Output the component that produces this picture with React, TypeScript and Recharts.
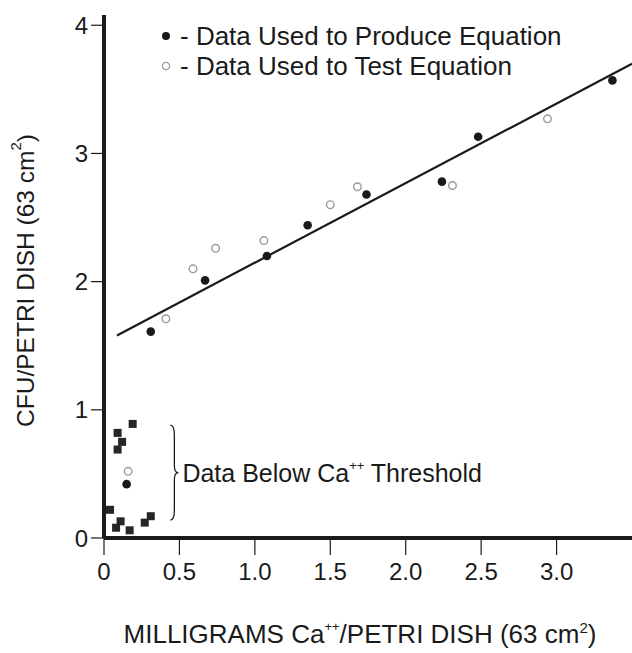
import React from 'react';
import { ScatterChart, Scatter, XAxis, YAxis, ReferenceLine, Legend } from 'recharts';

const FONT = '"Liberation Sans", Arial, Helvetica, sans-serif';
const INK = '#1a1a1a';

const xTicks = [0, 0.5, 1.0, 1.5, 2.0, 2.5, 3.0];
const yTicks = [0, 1, 2, 3, 4];
const xDomain = [0, 3.5];
const yDomain = [0, 4.08];

// Filled circles: data used to produce equation
const produceData = [
  { x: 0.15, y: 0.42 },
  { x: 0.31, y: 1.61 },
  { x: 0.67, y: 2.01 },
  { x: 1.08, y: 2.2 },
  { x: 1.35, y: 2.44 },
  { x: 1.74, y: 2.68 },
  { x: 2.24, y: 2.78 },
  { x: 2.48, y: 3.13 },
  { x: 3.37, y: 3.57 },
];

// Open circles: data used to test equation
const testData = [
  { x: 0.16, y: 0.52 },
  { x: 0.41, y: 1.71 },
  { x: 0.59, y: 2.1 },
  { x: 0.74, y: 2.26 },
  { x: 1.06, y: 2.32 },
  { x: 1.5, y: 2.6 },
  { x: 1.68, y: 2.74 },
  { x: 2.31, y: 2.75 },
  { x: 2.94, y: 3.27 },
];

// Squares: data below Ca++ threshold
const thresholdData = [
  { x: 0.19, y: 0.89 },
  { x: 0.09, y: 0.82 },
  { x: 0.12, y: 0.75 },
  { x: 0.09, y: 0.69 },
  { x: 0.04, y: 0.22 },
  { x: 0.11, y: 0.13 },
  { x: 0.08, y: 0.08 },
  { x: 0.17, y: 0.06 },
  { x: 0.27, y: 0.12 },
  { x: 0.31, y: 0.17 },
];

// Regression line end points
const fitLine = [
  { x: 0.086, y: 1.58 },
  { x: 3.5, y: 3.7 },
];

// Brace spanning the below-threshold group
const braceSpan = [
  { x: 0.44, y: 0.14 },
  { x: 0.44, y: 0.88 },
];

const legendItems = [
  { label: '- Data Used to Produce Equation', filled: true },
  { label: '- Data Used to Test Equation', filled: false },
];

const FilledDot = (props: any) => (
  <circle cx={props.cx} cy={props.cy} r={4.3} fill={INK} stroke="none" />
);
const OpenDot = (props: any) => (
  <circle cx={props.cx} cy={props.cy} r={3.8} fill="#fff" stroke="#9a9a9a" strokeWidth={1.4} />
);
const Square = (props: any) => (
  <rect x={props.cx - 4} y={props.cy - 4} width={8} height={8} fill="#262626" />
);

const Brace = (props: any) => {
  const x = props.x1;
  const top = Math.min(props.y1, props.y2);
  const bot = Math.max(props.y1, props.y2);
  const mid = (top + bot) / 2;
  const d = `M ${x} ${top} Q ${x + 4} ${top} ${x + 4} ${top + 10} L ${x + 4} ${mid - 7} Q ${x + 4} ${mid} ${x + 8} ${mid} Q ${x + 4} ${mid} ${x + 4} ${mid + 7} L ${x + 4} ${bot - 10} Q ${x + 4} ${bot} ${x} ${bot}`;
  return (
    <g>
      <path d={d} fill="none" stroke={INK} strokeWidth={1.3} />
      <text x={x + 12} y={mid + 9} fontFamily={FONT} fontSize={25} fill={INK}>
        Data Below Ca
        <tspan fontSize={13} dy={-12}>++</tspan>
        <tspan dy={12}> Threshold</tspan>
      </text>
    </g>
  );
};

const LegendBox = () => (
  <div style={{ fontFamily: FONT, fontSize: 26, color: INK, lineHeight: '30px' }}>
    {legendItems.map((it) => (
      <div key={it.label} style={{ display: 'flex', alignItems: 'center', whiteSpace: 'nowrap' }}>
        <svg width={20} height={30} style={{ display: 'block' }}>
          {it.filled ? (
            <circle cx={6} cy={15} r={4} fill={INK} />
          ) : (
            <circle cx={6} cy={15} r={3.6} fill="#fff" stroke="#9a9a9a" strokeWidth={1.3} />
          )}
        </svg>
        <span>{it.label}</span>
      </div>
    ))}
  </div>
);

const YLabel = (props: any) => {
  const vb = props.viewBox;
  const cx = vb.x + 25;
  const cy = vb.y + vb.height / 2 + 4;
  return (
    <text
      x={cx}
      y={cy}
      transform={`rotate(-90 ${cx} ${cy})`}
      textAnchor="middle"
      dominantBaseline="central"
      fontFamily={FONT}
      fontSize={24.5}
      fill={INK}
    >
      CFU/PETRI DISH (63 cm
      <tspan fontSize={15} dy={-10}>2</tspan>
      <tspan dy={10}>)</tspan>
    </text>
  );
};

const XLabel = (props: any) => {
  const vb = props.viewBox;
  const cx = vb.x + vb.width / 2 - 8;
  const cy = vb.y + 105;
  return (
    <text x={cx} y={cy} textAnchor="middle" fontFamily={FONT} fontSize={26} fill={INK}>
      MILLIGRAMS Ca
      <tspan fontSize={13} dy={-12}>++</tspan>
      <tspan dy={12}>/PETRI DISH (63 cm</tspan>
      <tspan fontSize={15} dy={-10}>2</tspan>
      <tspan dy={10}>)</tspan>
    </text>
  );
};

export default function App() {
  return (
    <div style={{ position: 'absolute', left: 0, top: 0, width: 632, height: 653, background: '#fff' }}>
      <ScatterChart width={632} height={653} margin={{ top: 15, right: 0, bottom: 0, left: 0 }}>
        <XAxis
          type="number"
          dataKey="x"
          domain={xDomain}
          ticks={xTicks}
          tickFormatter={(v: number) => (v === 0 ? '0' : v.toFixed(1))}
          height={115}
          tickSize={17}
          tickMargin={8}
          axisLine={{ stroke: INK, strokeWidth: 4 }}
          tickLine={{ stroke: INK, strokeWidth: 1.2 }}
          tick={{ fontSize: 24, fill: INK, fontFamily: FONT }}
          allowDataOverflow
          label={{ content: XLabel }}
        />
        <YAxis
          type="number"
          dataKey="y"
          domain={yDomain}
          ticks={yTicks}
          width={104}
          tickSize={13}
          tickMargin={3}
          axisLine={{ stroke: INK, strokeWidth: 4 }}
          tickLine={{ stroke: INK, strokeWidth: 1.2 }}
          tick={{ fontSize: 24, fill: INK, fontFamily: FONT }}
          allowDataOverflow
          label={{ content: YLabel }}
        />
        <Legend
          layout="vertical"
          align="center"
          verticalAlign="middle"
          content={LegendBox}
          wrapperStyle={{ top: 21, left: 160, width: 'auto', height: 'auto' }}
        />
        <ReferenceLine segment={fitLine} stroke={INK} strokeWidth={2.2} ifOverflow="visible" />
        <ReferenceLine segment={braceSpan} ifOverflow="visible" shape={Brace} />
        <Scatter name="threshold" data={thresholdData} shape={Square} isAnimationActive={false} />
        <Scatter name="test" data={testData} shape={OpenDot} isAnimationActive={false} />
        <Scatter name="produce" data={produceData} shape={FilledDot} isAnimationActive={false} />
      </ScatterChart>
    </div>
  );
}
